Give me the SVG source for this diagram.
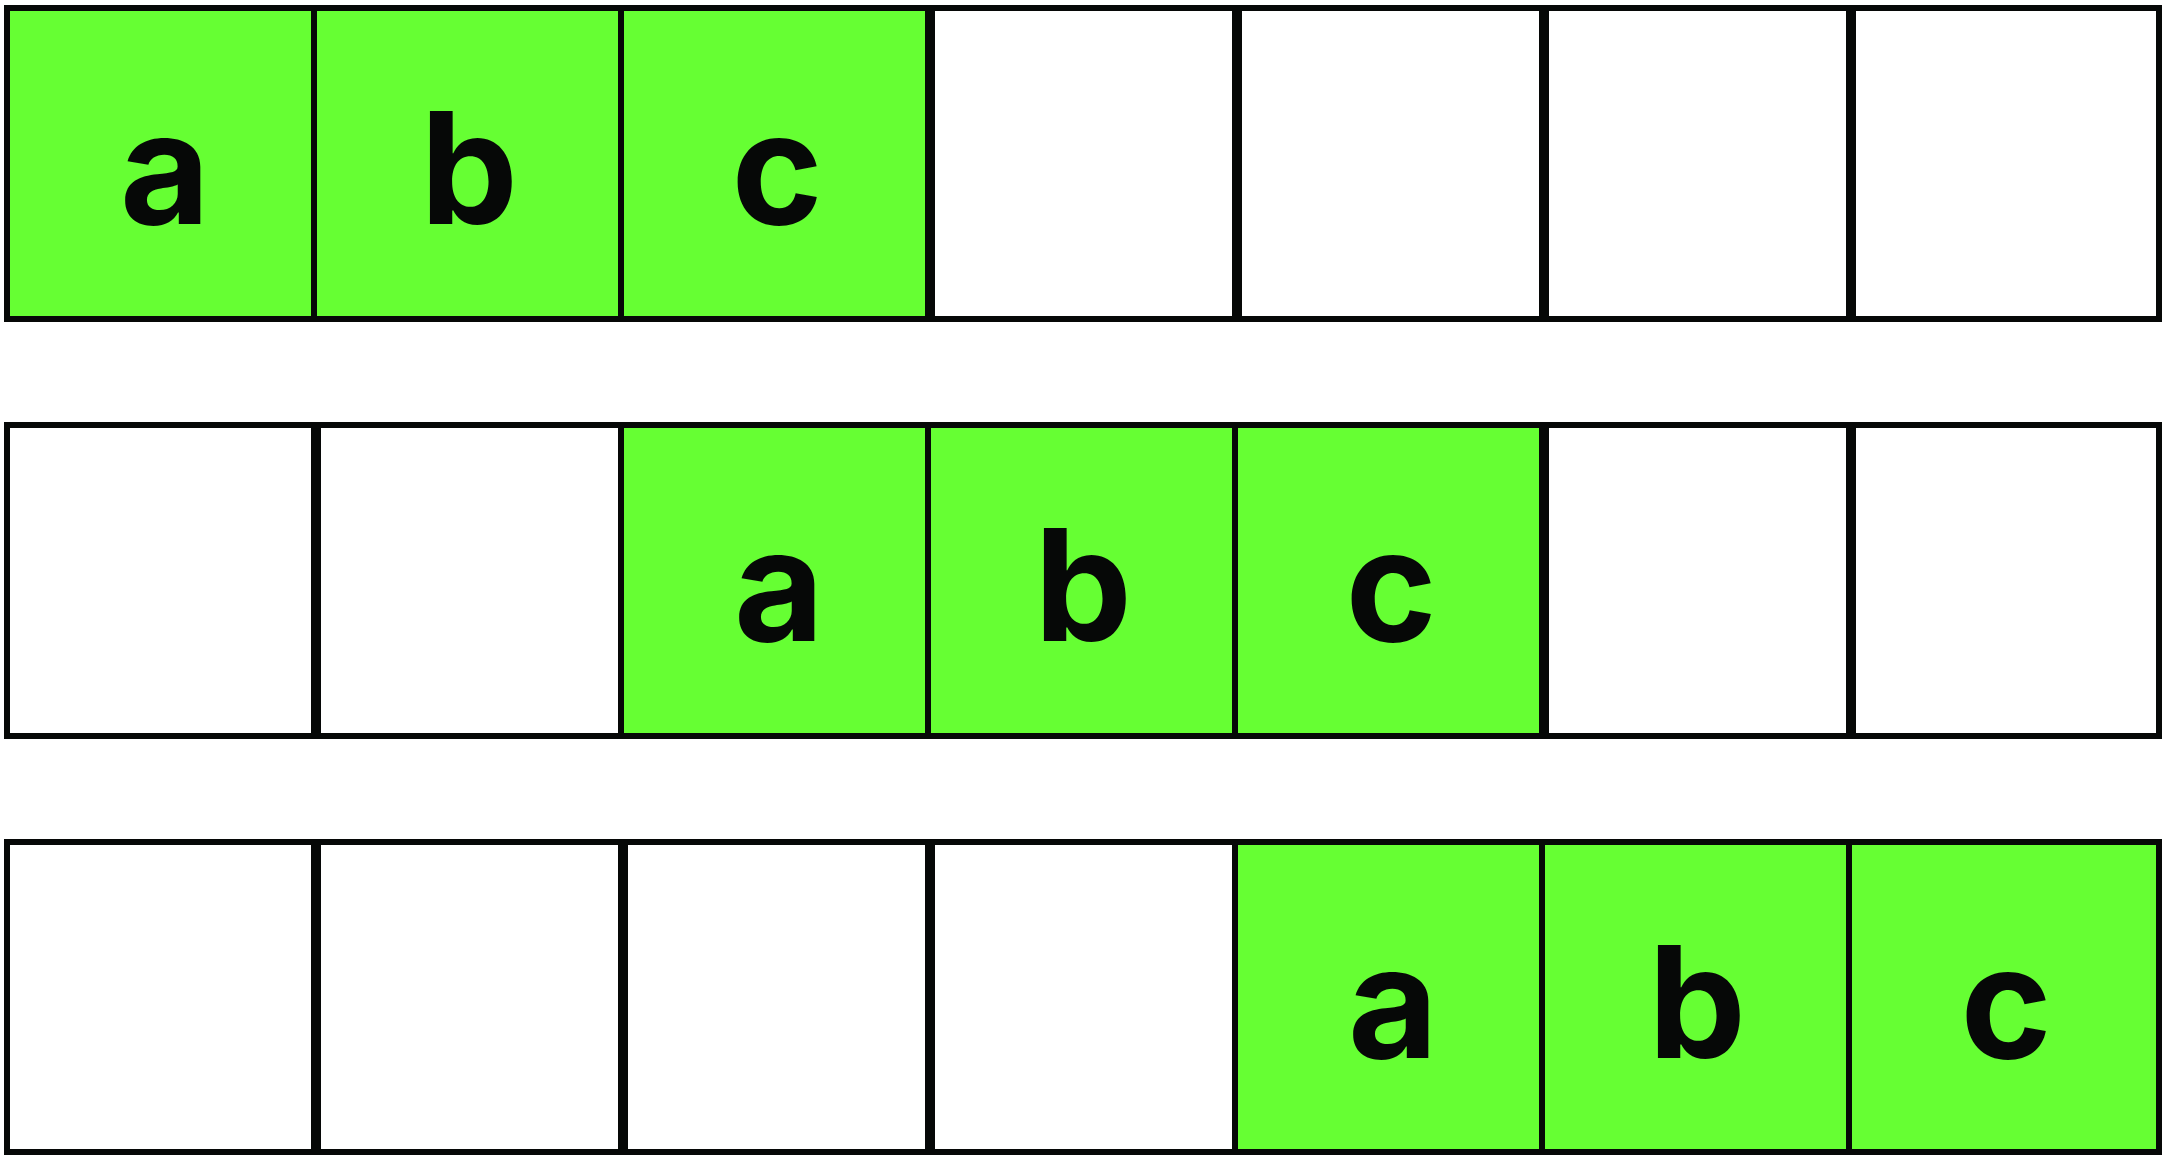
<svg xmlns="http://www.w3.org/2000/svg" width="2165" height="1162" viewBox="0 0 2165 1162">
<style>
.g{fill:#66ff33;stroke:#060807;stroke-width:6}
.w{fill:#ffffff;stroke:#060807;stroke-width:6}
.t{font-family:Inter,"Liberation Sans",Arial,sans-serif;font-weight:bold;font-size:155px;fill:#060807;text-anchor:middle}
</style>
<rect width="2165" height="1162" fill="#ffffff"/>
<g id="row1">
<g id="r1c1"><rect class="g" x="7" y="8" width="307" height="311"/><text class="t" x="165" y="224">a</text></g>
<g id="r1c2"><rect class="g" x="314" y="8" width="307" height="311"/><text class="t" x="469" y="224">b</text></g>
<g id="r1c3"><rect class="g" x="621" y="8" width="307" height="311"/><text class="t" x="777" y="224">c</text></g>
<g id="r1c4"><rect class="w" x="932" y="8" width="303" height="311"/></g>
<g id="r1c5"><rect class="w" x="1239" y="8" width="303" height="311"/></g>
<g id="r1c6"><rect class="w" x="1546" y="8" width="303" height="311"/></g>
<g id="r1c7"><rect class="w" x="1853" y="8" width="306" height="311"/></g>
</g>
<g id="row2">
<g id="r2c1"><rect class="w" x="7" y="425" width="307" height="311"/></g>
<g id="r2c2"><rect class="w" x="318" y="425" width="303" height="311"/></g>
<g id="r2c3"><rect class="g" x="621" y="425" width="307" height="311"/><text class="t" x="779" y="641">a</text></g>
<g id="r2c4"><rect class="g" x="928" y="425" width="307" height="311"/><text class="t" x="1083" y="641">b</text></g>
<g id="r2c5"><rect class="g" x="1235" y="425" width="307" height="311"/><text class="t" x="1391" y="641">c</text></g>
<g id="r2c6"><rect class="w" x="1546" y="425" width="303" height="311"/></g>
<g id="r2c7"><rect class="w" x="1853" y="425" width="306" height="311"/></g>
</g>
<g id="row3">
<g id="r3c1"><rect class="w" x="7" y="842" width="307" height="310"/></g>
<g id="r3c2"><rect class="w" x="318" y="842" width="303" height="310"/></g>
<g id="r3c3"><rect class="w" x="625" y="842" width="303" height="310"/></g>
<g id="r3c4"><rect class="w" x="932" y="842" width="303" height="310"/></g>
<g id="r3c5"><rect class="g" x="1235" y="842" width="307" height="310"/><text class="t" x="1393" y="1058">a</text></g>
<g id="r3c6"><rect class="g" x="1542" y="842" width="307" height="310"/><text class="t" x="1697" y="1058">b</text></g>
<g id="r3c7"><rect class="g" x="1849" y="842" width="310" height="310"/><text class="t" x="2006" y="1058">c</text></g>
</g>
<g id="connectors"/>
</svg>
